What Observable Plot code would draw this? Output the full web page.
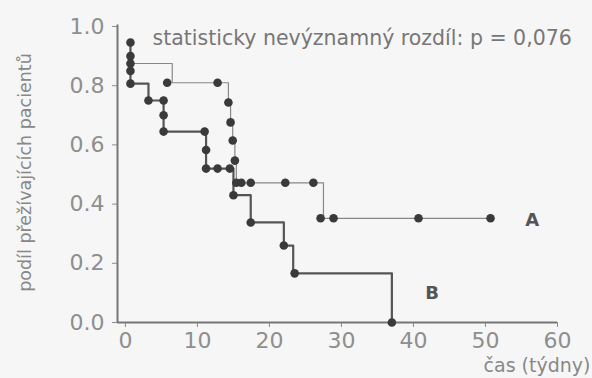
<!DOCTYPE html>
<html>
<head>
<meta charset="utf-8">
<script src="https://cdn.jsdelivr.net/npm/d3@7"></script>
<script src="https://cdn.jsdelivr.net/npm/@observablehq/plot@0.6"></script>
<style>
  html, body { margin: 0; padding: 0; background: #f6f6f6; }
</style>
</head>
<body>
<div id="chart"></div>
<script>
// Step curve vertices (Kaplan–Meier, step-after)
const lineA_t = [0.7, 0.7, 6.5, 14.3, 14.6, 14.9, 15.2, 15.4, 27.5, 51.0];
const lineA_s = [0.946, 0.875, 0.81, 0.743, 0.676, 0.615, 0.547, 0.472, 0.352, 0.352];

const lineB_t = [0.7, 0.7, 3.2, 5.3, 5.3, 11.2, 11.2, 15.0, 17.4, 22.0, 23.3, 37.0];
const lineB_s = [0.946, 0.807, 0.75, 0.70, 0.645, 0.583, 0.52, 0.43, 0.338, 0.26, 0.166, 0.0];

// Markers
const markA_t = [0.7, 5.8, 12.8, 14.3, 14.6, 14.9, 15.2, 15.4, 16.1, 17.4, 22.2, 26.1, 27.1, 28.9, 40.7, 50.7];
const markA_s = [0.875, 0.81, 0.81, 0.743, 0.676, 0.615, 0.547, 0.472, 0.472, 0.472, 0.472, 0.472, 0.352, 0.352, 0.352, 0.352];

const markB_t = [0.7, 0.7, 0.7, 0.7, 3.2, 5.3, 5.3, 5.3, 11.0, 11.2, 11.2, 12.8, 14.5, 15.0, 17.4, 22.0, 23.5, 37.0];
const markB_s = [0.946, 0.90, 0.85, 0.807, 0.75, 0.75, 0.70, 0.645, 0.645, 0.583, 0.52, 0.52, 0.52, 0.43, 0.338, 0.26, 0.166, 0.0];

const seriesNames = ["A", "B"];
const xTicks = [0, 10, 20, 30, 40, 50, 60];
const yTicks = [0, 0.2, 0.4, 0.6, 0.8, 1.0];
const titleText = "statisticky nevýznamný rozdíl: p = 0,076";
const xLabel = "čas (týdny)";
const yLabel = "podíl přežívajících pacientů";

const lineA = lineA_t.map((t, i) => ({t, s: lineA_s[i]}));
const lineB = lineB_t.map((t, i) => ({t, s: lineB_s[i]}));
const markA = markA_t.map((t, i) => ({t, s: markA_s[i]}));
const markB = markB_t.map((t, i) => ({t, s: markB_s[i]}));

const gray = "#8e8e8e";

const chart = Plot.plot({
  width: 592,
  height: 378,
  marginLeft: 117,
  marginRight: 35,
  marginTop: 26,
  marginBottom: 56,
  style: {fontFamily: "DejaVu Sans, sans-serif", background: "#f6f6f6", color: gray},
  x: {domain: [-1.1, 60]},
  y: {domain: [0, 1]},
  marks: [
    Plot.axisY({ticks: yTicks, tickFormat: d3.format(".1f"), tickSize: 5, tickPadding: 8, fontSize: 22, label: null, stroke: gray}),
    Plot.axisX({ticks: xTicks, tickFormat: d3.format("d"), tickSize: 5, tickPadding: 5, fontSize: 22, label: null, stroke: gray}),
    Plot.ruleX([-1.1], {y1: 0, y2: 1.005, stroke: "#777", strokeWidth: 2}),
    Plot.ruleY([0], {x1: -1.1, x2: 60, stroke: "#777", strokeWidth: 2}),
    Plot.line(lineA, {x: "t", y: "s", curve: "step-after", stroke: "#888", strokeWidth: 1.2}),
    Plot.line(lineB, {x: "t", y: "s", curve: "step-after", stroke: "#555", strokeWidth: 2.2}),
    Plot.dot(markA, {x: "t", y: "s", r: 4.3, fill: "#3a3a3a", stroke: "none"}),
    Plot.dot(markB, {x: "t", y: "s", r: 4.3, fill: "#3a3a3a", stroke: "none"}),
    Plot.text([seriesNames[0]], {x: 56.5, y: 0.345, text: d => d, fontSize: 18, fontWeight: "bold", fill: "#555"}),
    Plot.text([seriesNames[1]], {x: 42.6, y: 0.098, text: d => d, fontSize: 18, fontWeight: "bold", fill: "#555"}),
    Plot.text([titleText], {frameAnchor: "top-left", dx: 35, dy: 12, lineAnchor: "middle", textAnchor: "start", text: d => d, fontSize: 20.5, fill: "#777"}),
    Plot.text([xLabel], {frameAnchor: "bottom-right", dx: 33, dy: 43, lineAnchor: "middle", textAnchor: "end", text: d => d, fontSize: 19, fill: "#888"}),
    Plot.text([yLabel], {frameAnchor: "left", dx: -92, dy: -2, rotate: -90, lineAnchor: "middle", textAnchor: "middle", text: d => d, fontSize: 17.5, fill: "#888"})
  ]
});
document.getElementById("chart").appendChild(chart);
</script>
</body>
</html>
